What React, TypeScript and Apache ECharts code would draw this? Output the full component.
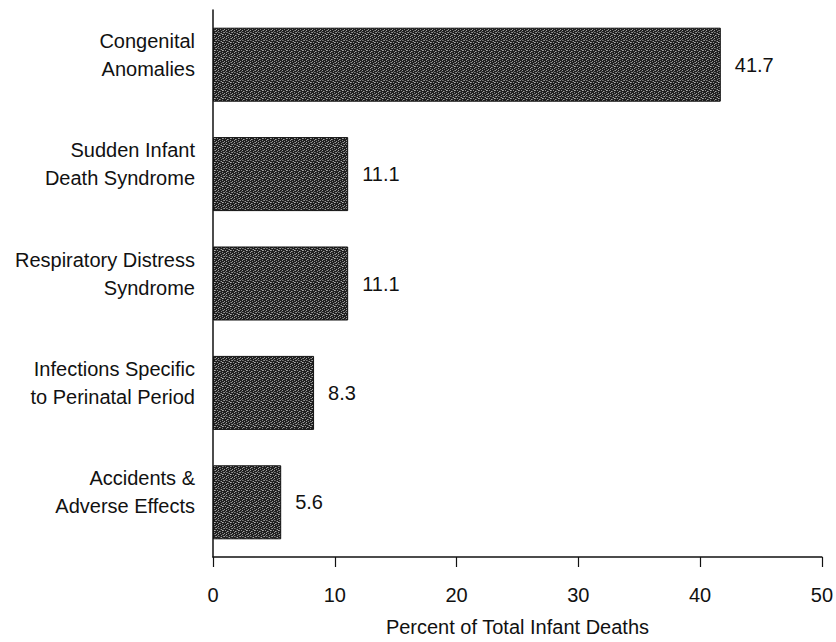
import React, { useEffect, useRef } from "react";
import * as echarts from "echarts";

const categories = [
  "Congenital\nAnomalies",
  "Sudden Infant\nDeath Syndrome",
  "Respiratory Distress\nSyndrome",
  "Infections Specific\nto Perinatal Period",
  "Accidents &\nAdverse Effects",
];
const values = [41.7, 11.1, 11.1, 8.3, 5.6];
const xTicks = [0, 10, 20, 30, 40, 50];
const xTitle = "Percent of Total Infant Deaths";

function makePattern(): string {
  const n = 8;
  const c = document.createElement("canvas");
  c.width = n;
  c.height = n;
  const ctx = c.getContext("2d");
  if (!ctx) return "";
  ctx.fillStyle = "#202020";
  ctx.fillRect(0, 0, n, n);
  const light: [number, number, string][] = [
    [0, 0, "#9a9a9a"], [2, 0, "#7a7a7a"], [5, 1, "#a0a0a0"], [7, 2, "#8a8a8a"],
    [1, 2, "#909090"], [3, 3, "#a5a5a5"], [6, 4, "#8c8c8c"], [0, 5, "#9c9c9c"],
    [4, 5, "#808080"], [2, 6, "#a0a0a0"], [7, 6, "#959595"], [5, 7, "#888888"],
    [1, 7, "#6e6e6e"], [4, 1, "#5a5a5a"], [6, 6, "#5e5e5e"], [3, 0, "#606060"],
    [6, 2, "#b0b0b0"], [2, 4, "#989898"], [4, 3, "#6a6a6a"], [7, 0, "#7c7c7c"],
  ];
  light.forEach(([x, y, col]) => {
    ctx.fillStyle = col;
    ctx.fillRect(x, y, 1, 1);
  });
  return c.toDataURL();
}

export default function App() {
  const ref = useRef<HTMLDivElement>(null);
  useEffect(() => {
    if (!ref.current) return;
    const chart = echarts.init(ref.current, undefined, { renderer: "svg" });
    const url = makePattern();
    const font = "'Liberation Sans', Arial, Helvetica, sans-serif";
    chart.setOption({
      animation: false,
      backgroundColor: "#ffffff",
      grid: { left: 213, right: 13, top: 10, bottom: 82, containLabel: false },
      xAxis: {
        type: "value",
        min: 0,
        max: 50,
        interval: 10,
        splitLine: { show: false },
        axisLine: { show: true, lineStyle: { color: "#111", width: 1.5 } },
        axisTick: { show: true, length: 10, lineStyle: { color: "#111", width: 1.2 } },
        axisLabel: {
          color: "#111",
          fontSize: 20,
          fontFamily: font,
          margin: 28,
          formatter: (v: number) => (xTicks.includes(v) ? String(v) : ""),
        },
        name: xTitle,
        nameLocation: "middle",
        nameGap: 60,
        nameTextStyle: { color: "#111", fontSize: 20, fontFamily: font },
      },
      yAxis: {
        type: "category",
        data: categories,
        inverse: true,
        axisLine: { show: true, lineStyle: { color: "#111", width: 1.5 } },
        axisTick: { show: false },
        axisLabel: {
          color: "#111",
          fontSize: 20,
          fontFamily: font,
          lineHeight: 28,
          align: "right",
          margin: 18,
          formatter: (v: string) =>
            v
              .split("\n")
              .map((s) => `{a|${s}}`)
              .join("\n") + "\n{s| }",
          rich: {
            a: { fontSize: 20, fontFamily: font, lineHeight: 28, color: "#111" },
            s: { fontSize: 10, lineHeight: 20, color: "#111" },
          },
        },
      },
      series: [
        {
          type: "bar",
          data: values,
          barWidth: 74,
          itemStyle: {
            color: url ? { image: url, repeat: "repeat" } : "#3a3a3a",
            borderColor: "#111",
            borderWidth: 1,
          },
          label: {
            show: true,
            position: "right",
            distance: 14,
            color: "#111",
            fontSize: 20,
            fontFamily: font,
            formatter: (p: any) => Number(p.value).toFixed(1),
          },
        },
      ],
    });
    return () => chart.dispose();
  }, []);
  return (
    <div
      ref={ref}
      style={{ position: "fixed", left: 0, top: 0, width: 836, height: 642 }}
    />
  );
}
